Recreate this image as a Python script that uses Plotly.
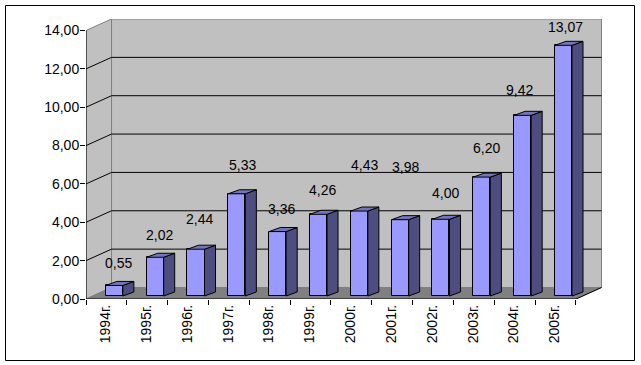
import plotly.graph_objects as go

# Data
years = ["1994г.", "1995г.", "1996г.", "1997г.", "1998г.", "1999г.",
         "2000г.", "2001г.", "2002г.", "2003г.", "2004г.", "2005г."]
values = [0.55, 2.02, 2.44, 5.33, 3.36, 4.26, 4.43, 3.98, 4.00, 6.20, 9.42, 13.07]
value_labels = ["0,55", "2,02", "2,44", "5,33", "3,36", "4,26",
                "4,43", "3,98", "4,00", "6,20", "9,42", "13,07"]
y_ticks = [0, 2, 4, 6, 8, 10, 12, 14]
y_tick_labels = ["0,00", "2,00", "4,00", "6,00", "8,00", "10,00", "12,00", "14,00"]

# Label offsets (px) from the bar's top centre
label_dx = [4.5, 4, 4, 6, 4, 4, 5.5, 5, 5, 5, -3, 2.5]
label_dy = [22, 22, 30, 29, 23, 24, 46, 52.5, 26, 29, 25, 18]

# Pseudo-3D geometry, in axis units
n = len(years)
WALL_DX, WALL_DY = 0.625, 0.6
BAR_START, BAR_W = 0.485, 0.417
BAR_BASE = 0.156
SIDE_DX, SIDE_DY = 0.27, 0.21
X_MAX, Y_MAX = 12.637, 14.6

FRONT, SIDE, TOP = "#9999FF", "#4D4D80", "#7373BF"
WALL, FLOOR, EDGE = "#C0C0C0", "#808080", "#808080"
FONT = dict(family="Liberation Sans, Arial, sans-serif", size=14, color="black")

fig = go.Figure()


def poly(xs, ys, fill, line="black", width=1, layer="below"):
    path = "M " + " L ".join(f"{x},{y}" for x, y in zip(xs, ys)) + " Z"
    fig.add_shape(type="path", path=path, xref="x", yref="y", fillcolor=fill,
                  line=dict(color=line, width=width), layer=layer)


def seg(xs, ys, color="black", width=1, layer="below"):
    for i in range(len(xs) - 1):
        fig.add_shape(type="line", x0=xs[i], y0=ys[i], x1=xs[i + 1], y1=ys[i + 1],
                      xref="x", yref="y", line=dict(color=color, width=width), layer=layer)


# Walls and floor
poly([WALL_DX, n + WALL_DX, n + WALL_DX, WALL_DX],
     [WALL_DY, WALL_DY, y_ticks[-1] + WALL_DY, y_ticks[-1] + WALL_DY], WALL, EDGE)
poly([0, WALL_DX, WALL_DX, 0], [0, WALL_DY, y_ticks[-1] + WALL_DY, y_ticks[-1]], WALL, EDGE)
poly([0, n, n + WALL_DX, WALL_DX], [0, 0, WALL_DY, WALL_DY], FLOOR, FLOOR)

# Gridlines
for t in y_ticks[1:-1]:
    seg([0, WALL_DX, n + WALL_DX], [t, t + WALL_DY, t + WALL_DY])
seg([n, n + WALL_DX], [0, WALL_DY])
seg([0, 0], [0, y_ticks[-1]])
seg([0, n], [0, 0])

# Front faces
fig.add_trace(go.Bar(
    x=[i + BAR_START + BAR_W / 2 for i in range(n)], y=values, base=BAR_BASE, width=BAR_W,
    marker=dict(color=FRONT, line=dict(color="black", width=1)),
    hoverinfo="skip", showlegend=False))

# Side and top faces
for i, v in enumerate(values):
    left = i + BAR_START
    right = left + BAR_W
    top = BAR_BASE + v
    fig.add_trace(go.Scatter(
        x=[right, right + SIDE_DX, right + SIDE_DX, right, right],
        y=[BAR_BASE, BAR_BASE + SIDE_DY, top + SIDE_DY, top, BAR_BASE],
        mode="lines", fill="toself", fillcolor=SIDE, line=dict(color="black", width=1),
        hoverinfo="skip", showlegend=False))
    fig.add_trace(go.Scatter(
        x=[left, right, right + SIDE_DX, left + SIDE_DX, left],
        y=[top, top, top + SIDE_DY, top + SIDE_DY, top],
        mode="lines", fill="toself", fillcolor=TOP, line=dict(color="black", width=1),
        hoverinfo="skip", showlegend=False))
    fig.add_annotation(x=left + BAR_W / 2, y=top, text=value_labels[i], showarrow=False,
                       xshift=label_dx[i], yshift=label_dy[i], font=FONT,
                       xanchor="center", yanchor="middle")

# Invisible trace that activates the tick-mark axis
fig.add_trace(go.Scatter(x=[0], y=[0], xaxis="x2", mode="markers", opacity=0,
                         hoverinfo="skip", showlegend=False))

# Outer frame
PW, PH = 516.0, 280.0
fig.add_shape(type="rect", xref="paper", yref="paper",
              x0=(5.5 - 86) / PW, x1=(634.5 - 86) / PW,
              y0=(299 - 360.5) / PH, y1=(299 - 5.5) / PH,
              line=dict(color="black", width=1), fillcolor="rgba(0,0,0,0)", layer="above")

fig.update_layout(
    width=641, height=365, autosize=False,
    margin=dict(l=86, r=39, t=19, b=66, pad=0),
    paper_bgcolor="white", plot_bgcolor="white",
    bargap=0, showlegend=False, font=FONT,
    xaxis=dict(range=[0, X_MAX], tickmode="array",
               tickvals=[i + 0.48 for i in range(n)], ticktext=years, tickangle=-90,
               ticks="", showgrid=False, zeroline=False, showline=False,
               tickfont=FONT, ticklabelstandoff=2),
    xaxis2=dict(overlaying="x", anchor="y", side="bottom", range=[0, X_MAX], tickmode="array",
                tickvals=list(range(n + 1)), ticktext=[""] * (n + 1),
                ticks="outside", ticklen=5, tickcolor="black", tickwidth=1,
                showgrid=False, zeroline=False, showline=False),
    yaxis=dict(range=[0, Y_MAX], tickmode="array", tickvals=y_ticks, ticktext=y_tick_labels,
               ticks="outside", ticklen=5, tickcolor="black", tickwidth=1,
               showgrid=False, zeroline=False, showline=False, tickfont=FONT,
               ticklabelstandoff=-2),
)

fig.write_html("out.html", config=dict(displayModeBar=False),
               post_script="document.body.style.margin='0';document.body.style.overflow='hidden';")
